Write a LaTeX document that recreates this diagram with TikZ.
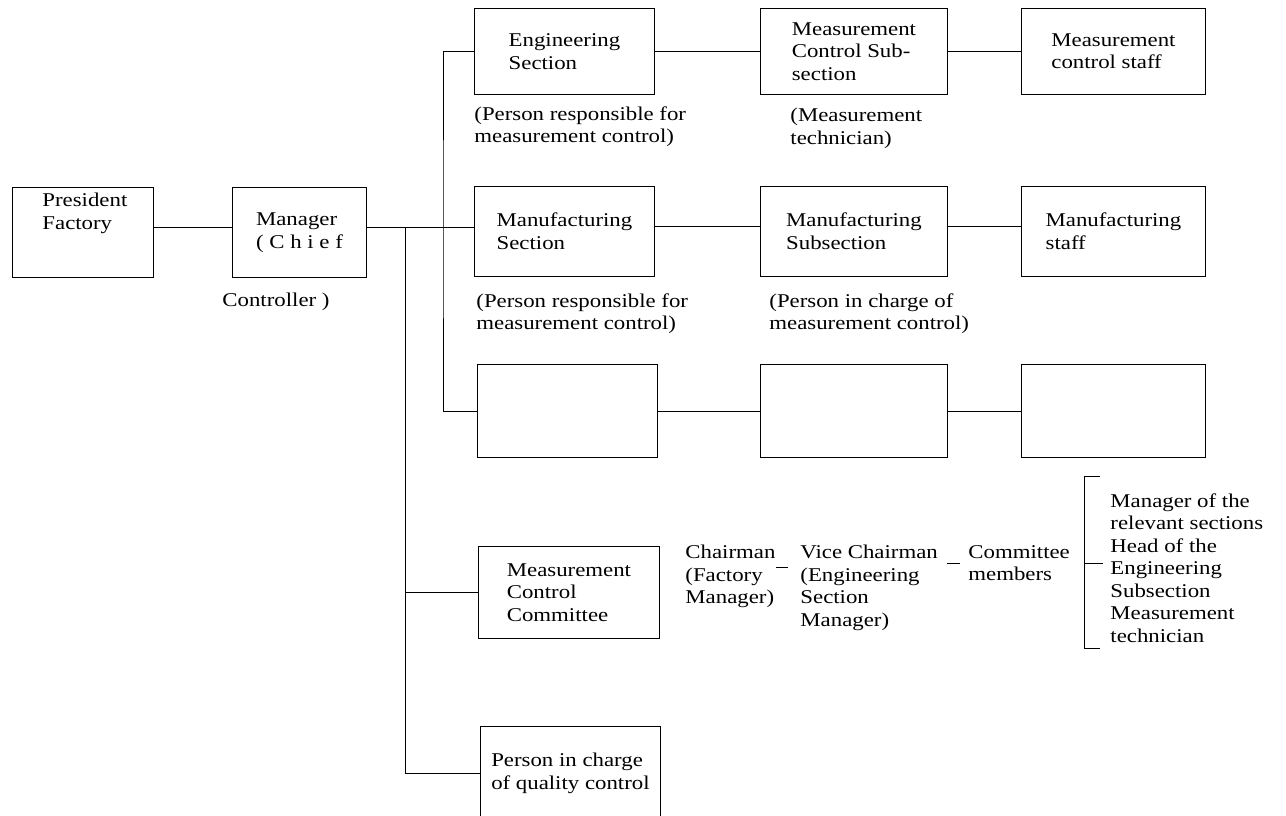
\documentclass[tikz,border=0pt]{standalone}
\usepackage{fontspec}
\setmainfont[FakeStretch=1.17]{Liberation Serif}
\begin{document}
\begin{tikzpicture}[x=1pt,y=-1pt,line width=0.9pt,
  font=\fontsize{19.5}{22.5}\selectfont,
  box/.style={draw,anchor=north west,align=left,inner sep=0pt},
  note/.style={anchor=north west,align=left,inner sep=0pt}]
\useasboundingbox (0,0) rectangle (1286,816);
% boxes
\node [box,minimum width=141,minimum height=90] (pres) at (12,187) {};
\node [note] (prestext) at (42,193) {President\\Factory};
\node [box,minimum width=134,minimum height=90] (mgr) at (232,187) {Manager\\( C h i e f};
\node [note] (ctrl) at (222,293) {Controller )};
\node [box,minimum width=180,minimum height=86] (eng) at (474,8) {Engineering\\Section};
\node [box,minimum width=187,minimum height=86] (mcs) at (760,8) {Measurement\\Control Sub-\\section};
\node [box,minimum width=184,minimum height=86] (mcstaff) at (1021,8) {Measurement\\control staff};
\node [box,minimum width=180,minimum height=90] (msec) at (474,186) {Manufacturing\\Section};
\node [box,minimum width=187,minimum height=90] (msub) at (760,186) {Manufacturing\\Subsection};
\node [box,minimum width=184,minimum height=90] (mstaff) at (1021,186) {Manufacturing\\staff};
\node [box,minimum width=180,minimum height=93] (e1) at (477,364) {};
\node [box,minimum width=187,minimum height=93] (e2) at (760,364) {};
\node [box,minimum width=184,minimum height=93] (e3) at (1021,364) {};
\node [box,minimum width=181,minimum height=92] (comm) at (478,546) {Measurement\\Control\\Committee};
\node [box,minimum width=180,minimum height=94] (qual) at (480,726) {Person in charge\\of quality control};
% notes under the boxes
\node [note] (n1) at (474,106) {(Person responsible for\\measurement control)};
\node [note] (n2) at (790,108) {(Measurement\\technician)};
\node [note] (n3) at (476,293) {(Person responsible for\\measurement control)};
\node [note] (n4) at (769,293) {(Person in charge of\\measurement control)};
% committee
\node [note] (chair) at (685,545) {Chairman\\(Factory\\Manager)};
\node [note] (vice) at (800,545) {Vice Chairman\\(Engineering\\Section\\Manager)};
\node [note] (memb) at (968,545) {Committee\\members};
\node [note] (list) at (1110,493) {Manager of the\\relevant sections\\Head of the\\Engineering\\Subsection\\Measurement\\technician};
% connectors
\coordinate (bA) at (443,227);
\coordinate (bB) at (405,227);
\draw ([yshift=5pt]pres.east) -- ([yshift=5pt]pres.east -| mgr.west);
\draw ([yshift=5pt]mgr.east) -- ([yshift=5pt]mgr.east -| msec.west);
\draw (eng.west) -| (bA) |- (e1.west);
\draw (bB) |- (qual.west);
\draw (bB |- comm.west) -- (comm.west);
\draw (eng) -- (mcs);
\draw (mcs) -- (mcstaff);
\draw ([yshift=5pt]msec.east) -- ([yshift=5pt]msec.east -| msub.west);
\draw ([yshift=5pt]msub.east) -- ([yshift=5pt]msub.east -| mstaff.west);
\draw (e1) -- (e2);
\draw (e2) -- (e3);
\draw (776,567) -- (788,567);
\draw (947,563) -- (960,563);
\draw (1100,476) -- (1084,476) -- (1084,648) -- (1100,648);
\draw (1084,563) -- (1103,563);
\end{tikzpicture}
\end{document}
